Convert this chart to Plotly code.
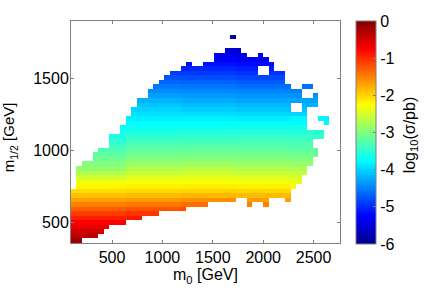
import plotly.graph_objects as go

# filled column spans per grid row (bottom row first)
row_spans = [
    [(0,1)], [(0,4)], [(0,5)], [(0,6)], [(0,9)], [(0,12)], [(0,15)], [(0,20)],
    [(0,24),(32,32),(35,35)], [(0,29),(32,35),(39,39)], [(0,39)], [(0,39)],
    [(1,40)], [(1,41)], [(1,41)], [(1,42)], [(1,42)], [(2,43)], [(4,43)], [(4,44)],
    [(5,44)], [(7,43)], [(7,43)], [(7,45)], [(9,45)], [(9,42)],
    [(10,42),(46,46)], [(10,42),(45,46)], [(11,42)], [(11,39),(42,42)],
    [(12,39),(42,44)], [(12,44)], [(14,41),(44,44)], [(14,41)], [(15,39),(42,43)],
    [(16,38)], [(17,38)], [(18,33),(36,38)], [(20,33),(36,36)], [(21,21),(24,36)],
    [(26,35)], [(26,31),(34,34)], [(28,30)], [], [], [(29,29)], [], [], [],
]

# log10(sigma/pb) read per row in five column bands: 0-9, 10-19, 20-29, 30-39, 40-48
row_values = [
    [-0.18,-0.18,-0.18,-0.18,-0.18], [-0.34,-0.30,-0.28,-0.28,-0.28],
    [-0.46,-0.42,-0.42,-0.42,-0.42], [-0.60,-0.52,-0.55,-0.55,-0.55],
    [-0.74,-0.72,-0.80,-0.80,-0.80], [-0.92,-0.88,-0.95,-0.95,-0.95],
    [-1.10,-1.05,-1.10,-1.10,-1.10], [-1.30,-1.24,-1.20,-1.25,-1.25],
    [-1.50,-1.46,-1.40,-1.50,-1.60], [-1.70,-1.66,-1.60,-1.68,-1.70],
    [-1.88,-1.85,-1.82,-1.85,-1.95], [-2.05,-2.02,-2.00,-2.02,-2.10],
    [-2.20,-2.18,-2.15,-2.18,-2.22], [-2.32,-2.28,-2.27,-2.30,-2.34],
    [-2.52,-2.42,-2.40,-2.44,-2.47], [-2.72,-2.56,-2.54,-2.58,-2.60],
    [-2.90,-2.72,-2.69,-2.72,-2.75], [-3.00,-2.86,-2.84,-2.86,-2.88],
    [-3.10,-2.98,-2.96,-2.98,-3.00], [-3.20,-3.08,-3.06,-3.08,-3.10],
    [-3.30,-3.18,-3.16,-3.18,-3.20], [-3.40,-3.28,-3.27,-3.26,-3.28],
    [-3.50,-3.38,-3.37,-3.35,-3.36], [-3.58,-3.48,-3.47,-3.44,-3.44],
    [-3.66,-3.58,-3.57,-3.54,-3.54], [-3.72,-3.68,-3.67,-3.64,-3.64],
    [-3.78,-3.76,-3.76,-3.74,-3.76], [-3.86,-3.84,-3.84,-3.86,-3.80],
    [-3.92,-3.92,-3.94,-3.98,-4.00], [-4.00,-4.00,-4.04,-4.08,-4.10],
    [-4.08,-4.10,-4.14,-4.18,-4.20], [-4.18,-4.20,-4.24,-4.28,-4.30],
    [-4.30,-4.32,-4.35,-4.38,-4.40], [-4.40,-4.42,-4.45,-4.48,-4.50],
    [-4.50,-4.54,-4.56,-4.60,-4.60], [-4.62,-4.66,-4.68,-4.72,-4.72],
    [-4.74,-4.78,-4.80,-4.84,-4.84], [-4.86,-4.90,-4.92,-4.96,-4.96],
    [-4.98,-5.02,-5.04,-5.08,-5.08], [-5.10,-5.14,-5.16,-5.20,-5.20],
    [-5.20,-5.24,-5.28,-5.32,-5.32], [-5.30,-5.35,-5.40,-5.44,-5.44],
    [-5.45,-5.50,-5.52,-5.56,-5.56], [-5.55,-5.60,-5.62,-5.66,-5.66],
    [-5.65,-5.70,-5.70,-5.72,-5.72], [-5.75,-5.78,-5.78,-5.80,-5.80],
    [-5.80,-5.80,-5.80,-5.80,-5.80], [-5.85,-5.85,-5.85,-5.85,-5.85],
    [-5.90,-5.90,-5.90,-5.90,-5.90],
]

x_ticks = [500, 1000, 1500, 2000, 2500]
y_ticks = [500, 1000, 1500]
cb_ticks = [0, -1, -2, -3, -4, -5, -6]
cb_labels = ["0", "-1", "-2", "-3", "-4", "-5", "-6"]

X0, X1, Y0, Y1 = 93, 2762, 357, 1895
N = 49
dx = (X1 - X0) / N
dy = (Y1 - Y0) / N

z = []
for spans, vals in zip(row_spans, row_values):
    row = [None] * N
    for a, b in spans:
        for c in range(a, b + 1):
            row[c] = vals[min(c // 10, 4)]
    z.append(row)

jet = [[0, "rgb(0,0,143)"], [0.125, "rgb(0,0,255)"], [0.375, "rgb(0,255,255)"],
       [0.625, "rgb(255,255,0)"], [0.875, "rgb(255,0,0)"], [1, "rgb(128,0,0)"]]

GR = "#808080"
FONT = dict(family="Liberation Sans", size=16, color="#000000")
TITLE_FONT = dict(family="Liberation Sans", size=15, color="#000000")

fig = go.Figure(go.Heatmap(
    z=z, x0=X0 + dx / 2, dx=dx, y0=Y0 + dy / 2, dy=dy,
    zmin=-6, zmax=0, colorscale=jet, hoverongaps=False,
    colorbar=dict(
        x=1.06, xanchor="left", xpad=0, y=1, yanchor="top", ypad=0,
        thickness=20, thicknessmode="pixels", len=223, lenmode="pixels",
        outlinecolor=GR, outlinewidth=1, borderwidth=0,
        tickmode="array", tickvals=cb_ticks, ticktext=cb_labels,
        ticks="inside", ticklen=3, tickcolor=GR, tickfont=FONT,
    ),
))
axis = dict(showgrid=False, zeroline=False, showline=True, linecolor=GR, linewidth=1,
            mirror="ticks", ticks="inside", ticklen=3, tickcolor=GR, tickfont=FONT)
fig.update_xaxes(range=[X0, X1], tickmode="array", tickvals=x_ticks,
                 title=dict(text="m<sub>0</sub> [GeV]", font=FONT, standoff=2), **axis)
fig.update_yaxes(range=[Y0, Y1], tickmode="array", tickvals=y_ticks, ticklabelstandoff=-2, **axis)
fig.add_annotation(text="m<sub>1/2</sub> [GeV]", textangle=-90, showarrow=False,
                   xref="paper", yref="paper", x=-0.2255, y=0.478, xanchor="center", yanchor="middle",
                   font=TITLE_FONT)
fig.add_annotation(text="log<sub>10</sub>(σ/pb)", textangle=-90, showarrow=False,
                   xref="paper", yref="paper", x=1.262, y=0.487, xanchor="center", yanchor="middle",
                   font=FONT)
fig.update_layout(width=436, height=291, autosize=False, font=FONT,
                  paper_bgcolor="white", plot_bgcolor="white",
                  margin=dict(l=70.5, r=95.5, t=21, b=47.5, pad=0))
fig.write_html("out.html", config={"displayModeBar": False},
               post_script="document.body.style.margin='0';document.documentElement.style.overflow='hidden';")
